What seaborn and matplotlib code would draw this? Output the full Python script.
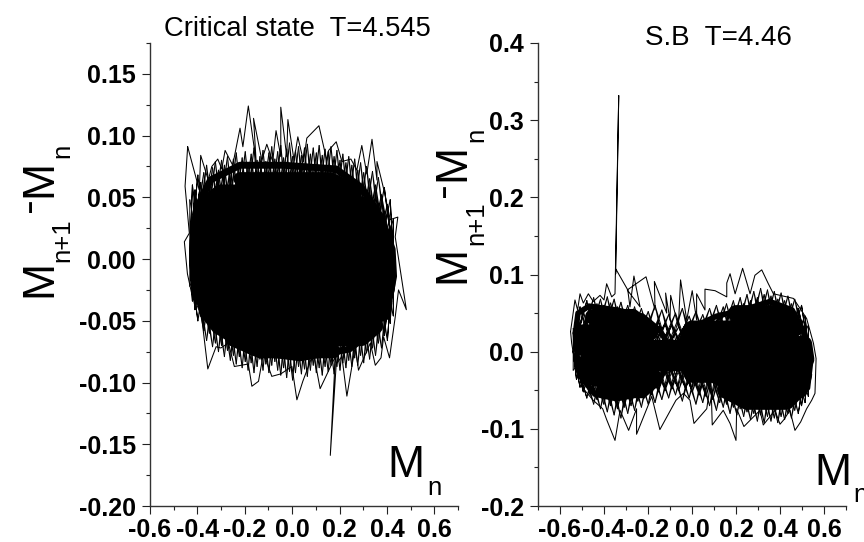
import numpy as np
import matplotlib
matplotlib.use("Agg")
import matplotlib.pyplot as plt
import seaborn as sns

sns.set_style("ticks")
plt.rcParams['font.family'] = ['Liberation Sans', 'DejaVu Sans']

# ---------------------------
# 1. Values
# ---------------------------
# left panel: dense core of the trajectory
left_core_x = [-0.22, 0.16, 0.27, -0.305, -0.365, 0.315, 0.35, -0.385, -0.395, 0.375, 0.39, -0.405, -0.405, 0.40, 0.41, -0.405,
               -0.40, 0.41, 0.405, -0.39, -0.375, 0.395, 0.385, -0.355, -0.315, 0.355, 0.295, -0.255, -0.135, 0.175]
left_core_y = [0.065, 0.065, 0.055, 0.055, 0.045, 0.045, 0.035, 0.035, 0.025, 0.025, 0.015, 0.015, 0.005, 0.005, -0.005, -0.005,
               -0.015, -0.015, -0.025, -0.025, -0.035, -0.035, -0.045, -0.045, -0.055, -0.055, -0.065, -0.065, -0.075, -0.075]

# left panel: rim of the solid black area
left_rim_x = [-0.392, -0.345, -0.220, -0.037, 0.185, 0.292, 0.375, 0.422, 0.428, 0.408, 0.348, 0.240, 0.034, -0.172, -0.308, -0.392, -0.415, -0.415, -0.392]
left_rim_y = [0.045, 0.064, 0.076, 0.076, 0.073, 0.058, 0.034, 0.008, -0.014, -0.034, -0.057, -0.073, -0.080, -0.075, -0.059, -0.034, -0.014, 0.019, 0.045]

# left panel: outer excursions, walked round the blob
left_edge_x = [-0.441, -0.392, -0.386, -0.354, -0.339, -0.314, -0.297, -0.283, -0.251, -0.220, -0.208, -0.185, -0.152,
               -0.163, -0.128, -0.107, -0.082, -0.068, -0.048, -0.048, -0.023, -0.018, 0.008, 0.024, 0.048, 0.062, 0.113,
               0.146, 0.154, 0.186, 0.210, 0.248, 0.273, 0.294, 0.315, 0.337, 0.358, 0.358, 0.386, 0.414, 0.446, 0.435,
               0.482, 0.449, 0.435, 0.411, 0.386, 0.375, 0.351, 0.330, 0.280, 0.266, 0.231, 0.210, 0.186, 0.161, 0.182,
               0.118, 0.090, 0.045, 0.020, -0.001, -0.048, -0.086, -0.121, -0.142, -0.170, -0.185, -0.244, -0.269, -0.301,
               -0.321, -0.356, -0.382, -0.410, -0.424, -0.442, -0.455, -0.434, -0.452, -0.441]
left_edge_y = [0.091, 0.056, 0.084, 0.064, 0.075, 0.081, 0.073, 0.088, 0.076, 0.106, 0.091, 0.124, 0.079,
               0.114, 0.080, 0.093, 0.079, 0.104, 0.083, 0.123, 0.083, 0.113, 0.080, 0.099, 0.079, 0.098, 0.108,
               0.080, 0.088, 0.095, 0.079, 0.081, 0.072, 0.092, 0.069, 0.097, 0.064, 0.079, 0.057, 0.032, 0.034, 0.018,
               -0.041, -0.025, -0.047, -0.080, -0.063, -0.080, -0.086, -0.068, -0.090, -0.071, -0.111, -0.079, -0.085, -0.159, -0.079,
               -0.105, -0.076, -0.099, -0.114, -0.087, -0.093, -0.095, -0.076, -0.099, -0.103, -0.085, -0.087, -0.068, -0.072,
               -0.071, -0.089, -0.047, -0.033, -0.028, -0.012, 0.014, 0.021, 0.059, 0.091]

# left panel: the fine spikes along the top and bottom of the blob
left_spike_x = [-0.432, -0.421, -0.410, -0.398, -0.386, -0.373, -0.361, -0.349, -0.336, -0.324,
                -0.311, -0.298, -0.286, -0.273, -0.261, -0.248, -0.236, -0.223, -0.211, -0.198,
                -0.186, -0.173, -0.161, -0.148, -0.136, -0.123, -0.111, -0.098, -0.086, -0.073,
                -0.061, -0.048, -0.036, -0.023, -0.011, 0.002, 0.014, 0.027, 0.039, 0.052,
                0.064, 0.077, 0.089, 0.102, 0.114, 0.127, 0.139, 0.152, 0.164, 0.177,
                0.189, 0.202, 0.214, 0.227, 0.239, 0.252, 0.264, 0.277, 0.289, 0.302,
                0.314, 0.327, 0.339, 0.352, 0.364, 0.377, 0.389, 0.402, 0.414, 0.427]
left_spike_top = [0.048, 0.060, 0.056, 0.068, 0.062, 0.070, 0.076, 0.066, 0.074, 0.079,
                  0.072, 0.080, 0.076, 0.083, 0.074, 0.081, 0.086, 0.077, 0.082, 0.087,
                  0.078, 0.085, 0.090, 0.080, 0.083, 0.088, 0.079, 0.086, 0.091, 0.081,
                  0.087, 0.092, 0.082, 0.089, 0.094, 0.083, 0.088, 0.091, 0.084, 0.090,
                  0.093, 0.085, 0.090, 0.086, 0.092, 0.084, 0.089, 0.087, 0.091, 0.083,
                  0.088, 0.080, 0.085, 0.078, 0.083, 0.076, 0.081, 0.072, 0.078, 0.070,
                  0.075, 0.065, 0.071, 0.060, 0.066, 0.052, 0.058, 0.044, 0.048, 0.032]
left_spike_bot = [-0.022, -0.034, -0.041, -0.050, -0.046, -0.058, -0.066, -0.060, -0.071, -0.068,
                  -0.075, -0.070, -0.079, -0.074, -0.082, -0.078, -0.085, -0.079, -0.088, -0.083,
                  -0.090, -0.084, -0.092, -0.087, -0.081, -0.090, -0.085, -0.092, -0.086, -0.083,
                  -0.090, -0.094, -0.088, -0.096, -0.091, -0.098, -0.092, -0.087, -0.093, -0.089,
                  -0.095, -0.090, -0.086, -0.092, -0.088, -0.094, -0.087, -0.091, -0.086, -0.093,
                  -0.087, -0.090, -0.084, -0.088, -0.082, -0.087, -0.080, -0.086, -0.078, -0.084,
                  -0.076, -0.081, -0.072, -0.078, -0.068, -0.072, -0.062, -0.066, -0.052, -0.046]

# right panel: the two dense lobes
right_lobe_a_x = [-0.45, -0.27, -0.19, -0.50, -0.50, -0.03, -0.03, -0.49, -0.44, -0.17, -0.23, -0.40]
right_lobe_a_y = [0.045, 0.045, 0.025, 0.025, 0.005, 0.005, -0.015, -0.015, -0.035, -0.035, -0.05, -0.05]
right_lobe_b_x = [0.20, 0.41, 0.47, 0.00, -0.03, 0.51, 0.52, -0.03, 0.00, 0.51, 0.49, 0.15, 0.25, 0.43]
right_lobe_b_y = [0.05, 0.05, 0.03, 0.03, 0.01, 0.01, -0.01, -0.01, -0.03, -0.03, -0.05, -0.05, -0.065, -0.065]
right_rim_a_x = [-0.530, -0.518, -0.468, -0.342, -0.225, -0.148, -0.112, -0.112, -0.160, -0.238, -0.342, -0.442, -0.490, -0.520, -0.530]
right_rim_a_y = [0.024, 0.050, 0.059, 0.054, 0.046, 0.028, 0.012, -0.018, -0.042, -0.055, -0.061, -0.055, -0.038, -0.013, 0.024]
right_rim_b_x = [-0.012, 0.012, 0.112, 0.233, 0.354, 0.455, 0.510, 0.540, 0.525, 0.455, 0.354, 0.233, 0.130, 0.012, -0.012, -0.012]
right_rim_b_y = [0.006, 0.033, 0.046, 0.054, 0.065, 0.054, 0.025, -0.011, -0.047, -0.067, -0.070, -0.061, -0.042, -0.025, -0.012, 0.006]

# right panel: outer excursions
right_edge_x = [-0.552, -0.532, -0.520, -0.509, -0.494, -0.471, -0.449, -0.418, -0.400, -0.388, -0.365, -0.350, -0.333,
                -0.347, -0.346, -0.292, -0.282, -0.264, -0.236, -0.294, -0.209, -0.168, -0.171, -0.115, -0.120, -0.100,
                -0.097, -0.062, -0.052, -0.024, 0.001, 0.021, 0.021, 0.059, 0.059, 0.105, 0.158, 0.158, 0.173, 0.196,
                0.230, 0.264, 0.286, 0.317, 0.347, 0.370, 0.461, 0.491, 0.521, 0.552, 0.564, 0.559, 0.544, 0.521, 0.494,
                0.468, 0.445, 0.418, 0.400, 0.377, 0.324, 0.309, 0.236, 0.203, 0.200, 0.173, 0.142, 0.092, 0.086, 0.067,
                0.009, -0.009, -0.039, -0.073, -0.146, -0.183, -0.252, -0.252, -0.288, -0.327, -0.350, -0.388, -0.406,
                -0.449, -0.494, -0.532, -0.547, -0.552]
right_edge_y = [0.026, 0.067, 0.054, 0.075, 0.063, 0.075, 0.065, 0.073, 0.067, 0.088, 0.071, 0.075, 0.332,
                0.101, 0.107, 0.080, 0.058, 0.098, 0.058, 0.080, 0.097, 0.054, 0.091, 0.050, 0.076, 0.041,
                0.073, 0.032, 0.093, 0.041, 0.079, 0.041, 0.075, 0.054, 0.081, 0.079, 0.071, 0.089, 0.101, 0.075,
                0.108, 0.075, 0.099, 0.106, 0.088, 0.075, 0.069, 0.056, 0.043, 0.011, -0.009, -0.054, -0.063, -0.074, -0.091,
                -0.102, -0.076, -0.088, -0.094, -0.076, -0.095, -0.076, -0.097, -0.074, -0.115, -0.093, -0.076, -0.095, -0.037, -0.074,
                -0.093, -0.063, -0.054, -0.063, -0.101, -0.058, -0.107, -0.074, -0.102, -0.076, -0.115, -0.088, -0.074,
                -0.063, -0.048, -0.015, 0.011, 0.026]

# right panel: fine spikes
right_spike_x = [-0.540, -0.525, -0.509, -0.494, -0.478, -0.463, -0.447, -0.432, -0.416, -0.401,
                 -0.385, -0.370, -0.354, -0.339, -0.323, -0.308, -0.292, -0.277, -0.261, -0.246,
                 -0.230, -0.215, -0.199, -0.184, -0.168, -0.153, -0.137, -0.122, -0.106, -0.091,
                 -0.075, -0.060, -0.044, -0.029, -0.013, 0.002, 0.018, 0.033, 0.049, 0.064,
                 0.080, 0.095, 0.111, 0.126, 0.142, 0.157, 0.173, 0.188, 0.204, 0.219,
                 0.235, 0.250, 0.266, 0.281, 0.297, 0.312, 0.328, 0.343, 0.359, 0.374,
                 0.390, 0.405, 0.421, 0.436, 0.452, 0.467, 0.483, 0.498, 0.514, 0.529]
right_spike_top = [0.030, 0.048, 0.058, 0.052, 0.066, 0.058, 0.070, 0.062, 0.068, 0.060,
                   0.071, 0.063, 0.068, 0.058, 0.064, 0.052, 0.060, 0.048, 0.058, 0.046,
                   0.056, 0.044, 0.052, 0.040, 0.060, 0.038, 0.054, 0.036, 0.048, 0.034,
                   0.050, 0.032, 0.056, 0.036, 0.046, 0.034, 0.052, 0.038, 0.048, 0.042,
                   0.056, 0.044, 0.060, 0.050, 0.058, 0.062, 0.052, 0.066, 0.058, 0.070,
                   0.062, 0.074, 0.066, 0.078, 0.070, 0.082, 0.074, 0.080, 0.072, 0.078,
                   0.068, 0.076, 0.066, 0.072, 0.062, 0.068, 0.056, 0.060, 0.046, 0.034]
right_spike_bot = [-0.024, -0.036, -0.046, -0.052, -0.060, -0.056, -0.068, -0.062, -0.074, -0.068,
                   -0.078, -0.070, -0.082, -0.074, -0.086, -0.072, -0.080, -0.070, -0.076, -0.064,
                   -0.072, -0.060, -0.068, -0.056, -0.066, -0.052, -0.062, -0.050, -0.060, -0.048,
                   -0.056, -0.050, -0.064, -0.048, -0.060, -0.052, -0.068, -0.056, -0.066, -0.058,
                   -0.070, -0.062, -0.076, -0.066, -0.072, -0.068, -0.080, -0.072, -0.082, -0.074,
                   -0.084, -0.078, -0.088, -0.080, -0.090, -0.082, -0.092, -0.084, -0.090, -0.086,
                   -0.092, -0.084, -0.088, -0.080, -0.086, -0.076, -0.080, -0.070, -0.066, -0.058]

left_title = "Critical state  T=4.545"
right_title = "S.B  T=4.46"
x_major = [-0.6, -0.4, -0.2, 0.0, 0.2, 0.4, 0.6]
left_y_major = [-0.20, -0.15, -0.10, -0.05, 0.00, 0.05, 0.10, 0.15]
right_y_major = [-0.2, -0.1, 0.0, 0.1, 0.2, 0.3, 0.4]

# ---------------------------
# 2. Figure and axes
# ---------------------------
W, H = 864, 542
fig = plt.figure(figsize=(W / 100, H / 100), dpi=100)
ax1 = fig.add_axes([150 / W, 1 - 506 / H, 308 / W, 463 / H])
ax2 = fig.add_axes([538 / W, 1 - 506 / H, 308 / W, 463 / H])


def trace(ax, xs, ys, lw):
    sns.lineplot(x=xs, y=ys, sort=False, estimator=None, color="black",
                 linewidth=lw, solid_capstyle="round", solid_joinstyle="round", ax=ax)


def spikes(ax, xs, peaks, lw=0.7):
    # each spike dives back into the blob a few points along, in both directions
    xs = np.asarray(xs)
    n = len(xs)
    for shift in (4, -4):
        back = xs[np.clip(np.arange(n) + shift, 0, n - 1)]
        path_x = np.column_stack([xs, back]).ravel()
        path_y = np.column_stack([peaks, np.zeros(n)]).ravel()
        trace(ax, path_x, path_y, lw)


trace(ax1, left_core_x, left_core_y, 9.6)
trace(ax1, left_rim_x, left_rim_y, 5)
spikes(ax1, left_spike_x, left_spike_top)
spikes(ax1, left_spike_x, left_spike_bot)
trace(ax1, left_edge_x, left_edge_y, 0.75)

trace(ax2, right_lobe_a_x, right_lobe_a_y, 11.5)
trace(ax2, right_lobe_b_x, right_lobe_b_y, 11.5)
trace(ax2, right_rim_a_x, right_rim_a_y, 4)
trace(ax2, right_rim_b_x, right_rim_b_y, 4)
spikes(ax2, right_spike_x, right_spike_top)
spikes(ax2, right_spike_x, right_spike_bot)
trace(ax2, right_edge_x, right_edge_y, 0.75)

# ---------------------------
# 3. Axes styling
# ---------------------------
ax1.set_xlim(-0.6, 0.7)
ax1.set_ylim(-0.20, 0.175)
ax2.set_xlim(-0.7, 0.7)
ax2.set_ylim(-0.2, 0.4)

for ax, y_major, fmt in [(ax1, left_y_major, "%.2f"), (ax2, right_y_major, "%.1f")]:
    ax.patch.set_alpha(0)
    sns.despine(ax=ax)
    ax.spines["left"].set_linewidth(1.0)
    ax.spines["bottom"].set_linewidth(1.0)
    ax.spines["left"].set_color("#333333")
    ax.spines["bottom"].set_color("#333333")
    ax.set_xticks(x_major)
    ax.set_xticklabels(["%.1f" % v for v in x_major])
    ax.set_yticks(y_major)
    ax.set_yticklabels([fmt % v for v in y_major])
    ax.xaxis.set_minor_locator(plt.MultipleLocator(0.1))
    ax.yaxis.set_minor_locator(plt.FixedLocator([v + (y_major[1] - y_major[0]) / 2 for v in y_major]))
    ax.tick_params(which="major", length=6, width=0.8, color="#222222", labelcolor="black", pad=4, labelsize=18)
    ax.tick_params(axis="x", which="major", pad=2.5)
    ax.tick_params(which="minor", length=3.2, width=0.8, color="#222222")
    for lab in ax.get_xticklabels() + ax.get_yticklabels():
        lab.set_fontweight("bold")


def put(px, py, s, size, rotation=0, ha="left", va="baseline"):
    fig.text(px / W, 1 - py / H, s, fontsize=size, rotation=rotation, ha=ha, va=va,
             rotation_mode="anchor" if rotation else "default", color="black")


put(297, 36, left_title, 19.7, ha="center")
put(718, 45, right_title, 20, ha="center")

# y labels, built piece by piece
put(51, 297, "M", 32, rotation=90)
put(69, 262, "n+1", 18.5, rotation=90)
put(41, 212, "-", 32, rotation=90)
put(51, 197, "M", 32, rotation=90)
put(69, 158, "n", 18.5, rotation=90)

put(464, 283, "M", 32, rotation=90)
put(483, 245, "n+1", 18.5, rotation=90)
put(455, 197, "-", 32, rotation=90)
put(464, 181, "M", 32, rotation=90)
put(483, 142, "n", 18.5, rotation=90)

# x labels
put(387, 477, "M", 32)
put(427, 495, "n", 18.5)
put(814, 485, "M", 32)
put(853, 502, "n", 18.5)

plt.savefig("out.png", dpi=100)
